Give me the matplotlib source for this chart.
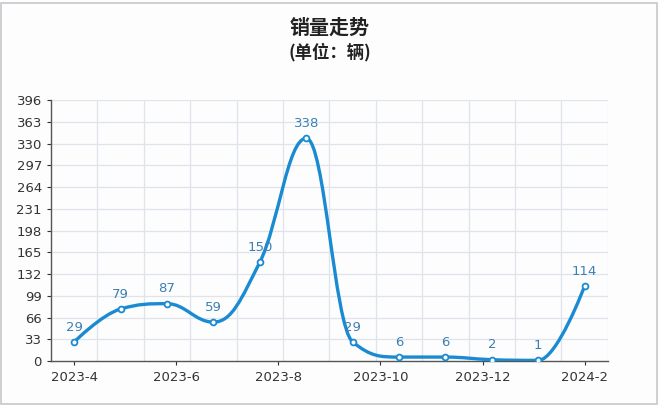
import numpy as np
import matplotlib.pyplot as plt
from matplotlib.patches import Rectangle, PathPatch
from matplotlib.path import Path

plt.rcParams['font.family'] = ['Noto Sans CJK SC', 'DejaVu Sans']

sales = [29, 79, 87, 59, 150, 338, 29, 6, 6, 2, 1, 114]
date_labels = ['2023-4', '2023-6', '2023-8', '2023-10', '2023-12', '2024-2']
y_ticks = [0, 33, 66, 99, 132, 165, 198, 231, 264, 297, 330, 363, 396]

LINE_COLOR = '#1a8bd2'
LABEL_COLOR = '#3a80b4'


def spline_path(x, y, smoothing=1.5):
    # bezier spline with control points clamped so there are no false extremes
    n = len(x)
    denom = smoothing + 1
    left = [(x[i], y[i]) for i in range(n)]
    right = [(x[i], y[i]) for i in range(n)]
    for i in range(1, n - 1):
        lx = (smoothing * x[i] + x[i - 1]) / denom
        ly = (smoothing * y[i] + y[i - 1]) / denom
        rx = (smoothing * x[i] + x[i + 1]) / denom
        ry = (smoothing * y[i] + y[i + 1]) / denom
        corr = (ry - ly) * (rx - x[i]) / (rx - lx) + y[i] - ry
        ly += corr
        ry += corr
        if ly > y[i - 1] and ly > y[i]:
            ly = max(y[i - 1], y[i]); ry = 2 * y[i] - ly
        elif ly < y[i - 1] and ly < y[i]:
            ly = min(y[i - 1], y[i]); ry = 2 * y[i] - ly
        if ry > y[i + 1] and ry > y[i]:
            ry = max(y[i + 1], y[i]); ly = 2 * y[i] - ry
        elif ry < y[i + 1] and ry < y[i]:
            ry = min(y[i + 1], y[i]); ly = 2 * y[i] - ry
        left[i] = (lx, ly)
        right[i] = (rx, ry)
    verts = [(x[0], y[0])]
    codes = [Path.MOVETO]
    for i in range(1, n):
        verts += [right[i - 1], left[i], (x[i], y[i])]
        codes += [Path.CURVE4] * 3
    return Path(verts, codes)


fig = plt.figure(figsize=(6.6, 4.05), dpi=100)
fig.patch.set_facecolor('#fdfdfe')
fig.patches.append(Rectangle((0.002, 0.003), 0.994, 0.99, transform=fig.transFigure,
                             fill=False, edgecolor='#c8c8cc', linewidth=1.2))

ax = fig.add_axes([0.0773, 0.1086, 0.8437, 0.6444])
ax.set_facecolor('#fdfdfe')

x = np.arange(len(sales), dtype=float)
path = spline_path(x, [float(v) for v in sales])
ax.add_patch(PathPatch(path, facecolor='none', edgecolor=LINE_COLOR, linewidth=2.4,
                       capstyle='round', joinstyle='round', zorder=3))
ax.plot(x, sales, linestyle='none', marker='o', markersize=4.2,
        markerfacecolor='white', markeredgecolor=LINE_COLOR, markeredgewidth=1.3, zorder=4)

for xi, v in zip(x, sales):
    ax.annotate(str(v), (xi, v), xytext=(0, 6), textcoords='offset points',
                ha='center', va='bottom', fontsize=9.5, color=LABEL_COLOR,
                family='DejaVu Sans', zorder=5)

ax.set_xlim(-0.5, len(sales) - 0.5)
ax.set_ylim(0, 396)
ax.set_yticks(y_ticks)
ax.set_yticklabels([str(v) for v in y_ticks], family='DejaVu Sans')
ax.set_xticks(np.linspace(0, len(sales) - 1, len(date_labels)))
ax.set_xticklabels(date_labels, family='DejaVu Sans')
ax.tick_params(axis='both', labelsize=9.5, colors='#333333', length=3, width=0.8)
ax.tick_params(axis='x', pad=4)

# grid: horizontal at ticks, vertical between points
for yv in y_ticks[1:]:
    ax.axhline(yv, color='#dfe3ea', linewidth=0.9, zorder=0)
for xv in np.arange(-0.5, len(sales), 1.0)[1:]:
    ax.axvline(xv, color='#dfe3ea', linewidth=0.9, zorder=0)

for side in ['top', 'right']:
    ax.spines[side].set_visible(False)
ax.spines['left'].set_color('#555555')
ax.spines['bottom'].set_color('#555555')
ax.spines['left'].set_linewidth(1.0)
ax.spines['bottom'].set_linewidth(1.0)

fig.text(0.5, 0.933, '销量走势', ha='center', va='center', fontsize=14.4,
         fontweight='bold', color='#222222')
fig.text(0.5, 0.871, '(单位：辆)', ha='center', va='center', fontsize=12.5,
         fontweight='bold', color='#222222')

fig.savefig('out.png', dpi=100, facecolor=fig.get_facecolor())
